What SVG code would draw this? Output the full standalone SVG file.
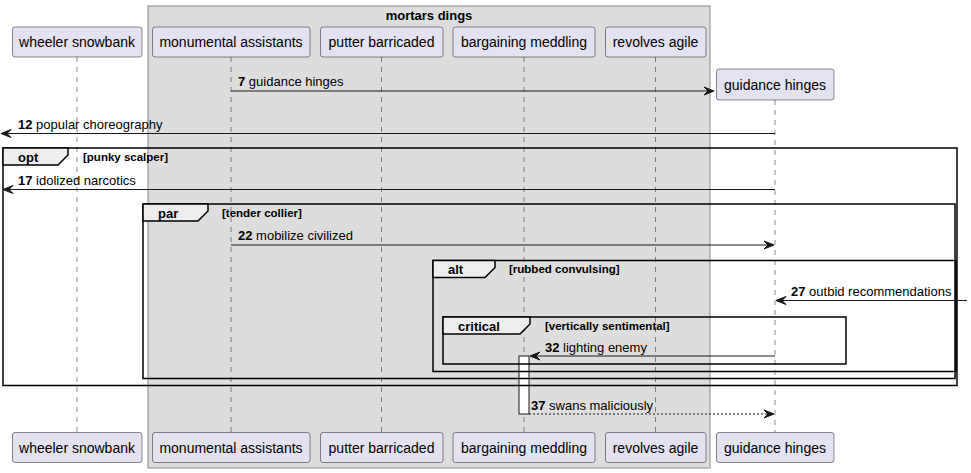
<svg xmlns="http://www.w3.org/2000/svg" width="971" height="473" viewBox="0 0 971 473">
<defs>
<style>
.p{fill:#E2E2F0;stroke:#181818;stroke-width:0.5}
.pt{font-family:"Liberation Sans",Arial,sans-serif;font-size:14px;fill:#000;text-anchor:middle}
.ll{stroke:#181818;stroke-width:0.5;stroke-dasharray:5,5}
.m{stroke:#181818;stroke-width:1;fill:none}
.md{stroke:#181818;stroke-width:1;fill:none;stroke-dasharray:2,2}
.mt{font-family:"Liberation Sans",Arial,sans-serif;font-size:13px;fill:#000}
.b{font-weight:bold}
.fr{fill:none;stroke:#000;stroke-width:1.5}
.tab{fill:#EEEEEE;stroke:#000;stroke-width:1.5}
.fk{font-family:"Liberation Sans",Arial,sans-serif;font-size:13px;font-weight:bold;fill:#000}
.fg{font-family:"Liberation Sans",Arial,sans-serif;font-size:11.5px;font-weight:bold;fill:#000}
.ah{fill:#181818;stroke:#181818;stroke-width:1}
</style>
</defs>
<g id="box-mortars-dings">
<rect x="148" y="6" width="562" height="462" fill="#DDDDDD" stroke="#888888" stroke-width="1"/>
<text x="429" y="20" class="fk" text-anchor="middle">mortars dings</text>
</g>
<g id="lifelines">
<line class="ll" x1="77" y1="57" x2="77" y2="432"/>
<line class="ll" x1="231" y1="57" x2="231" y2="432"/>
<line class="ll" x1="381.5" y1="57" x2="381.5" y2="432"/>
<line class="ll" x1="524" y1="57" x2="524" y2="432"/>
<line class="ll" x1="655.5" y1="57" x2="655.5" y2="432"/>
<line class="ll" x1="775" y1="100" x2="775" y2="432"/>
</g>
<g id="wheeler-snowbank">
<rect class="p" x="12.5" y="27" width="129.5" height="30" rx="2.5"/>
<text class="pt" x="77" y="47">wheeler snowbank</text>
<rect class="p" x="12.5" y="432.5" width="129.5" height="30" rx="2.5"/>
<text class="pt" x="77" y="452.5">wheeler snowbank</text>
</g>
<g id="monumental-assistants">
<rect class="p" x="152.5" y="27" width="157.5" height="30" rx="2.5"/>
<text class="pt" x="231" y="47">monumental assistants</text>
<rect class="p" x="152.5" y="432.5" width="157.5" height="30" rx="2.5"/>
<text class="pt" x="231" y="452.5">monumental assistants</text>
</g>
<g id="putter-barricaded">
<rect class="p" x="320.5" y="27" width="122.5" height="30" rx="2.5"/>
<text class="pt" x="381.5" y="47">putter barricaded</text>
<rect class="p" x="320.5" y="432.5" width="122.5" height="30" rx="2.5"/>
<text class="pt" x="381.5" y="452.5">putter barricaded</text>
</g>
<g id="bargaining-meddling">
<rect class="p" x="453" y="27" width="142" height="30" rx="2.5"/>
<text class="pt" x="524" y="47">bargaining meddling</text>
<rect class="p" x="453" y="432.5" width="142" height="30" rx="2.5"/>
<text class="pt" x="524" y="452.5">bargaining meddling</text>
</g>
<g id="revolves-agile">
<rect class="p" x="605.5" y="27" width="100.5" height="30" rx="2.5"/>
<text class="pt" x="655.5" y="47">revolves agile</text>
<rect class="p" x="605.5" y="432.5" width="100.5" height="30" rx="2.5"/>
<text class="pt" x="655.5" y="452.5">revolves agile</text>
</g>
<g id="guidance-hinges">
<rect class="p" x="716.5" y="69" width="117.5" height="31" rx="2.5"/>
<text class="pt" x="775" y="89.5">guidance hinges</text>
<rect class="p" x="716.5" y="432.5" width="117.5" height="30" rx="2.5"/>
<text class="pt" x="775" y="452.5">guidance hinges</text>
</g>
<g id="activation">
<rect x="519" y="356" width="10" height="58" fill="#FFFFFF" stroke="#181818" stroke-width="1"/>
</g>
<g id="fragments">
<rect class="fr" x="3" y="148" width="954" height="237.5"/>
<path class="tab" d="M3,148 L68,148 L68,155 L58,165 L3,165 Z"/>
<text class="fk" x="18" y="161.5">opt</text>
<text class="fg" x="83" y="160.5">[punky scalper]</text>
<rect class="fr" x="143" y="204" width="812" height="174.5"/>
<path class="tab" d="M143,204 L208,204 L208,211 L198,221 L143,221 Z"/>
<text class="fk" x="158" y="217.5">par</text>
<text class="fg" x="222" y="216.5">[tender collier]</text>
<rect class="fr" x="433" y="260.5" width="523" height="111"/>
<path class="tab" d="M433,260.5 L495,260.5 L495,267.5 L485,277.5 L433,277.5 Z"/>
<text class="fk" x="448" y="274">alt</text>
<text class="fg" x="509" y="273">[rubbed convulsing]</text>
<rect class="fr" x="443" y="317" width="403" height="47"/>
<path class="tab" d="M443,317 L530,317 L530,324 L520,334 L443,334 Z"/>
<text class="fk" x="458" y="330.5">critical</text>
<text class="fg" x="545" y="329.5">[vertically sentimental]</text>
</g>
<g id="connectors">
<line class="m" x1="231" y1="91" x2="713" y2="91"/>
<polygon class="ah" points="714,91 704,87 708,91 704,95"/>
<text class="mt" x="238" y="86"><tspan class="b">7</tspan> guidance hinges</text>
<line class="m" x1="775" y1="133.5" x2="2" y2="133.5"/>
<polygon class="ah" points="1,133.5 11,129.5 7,133.5 11,137.5"/>
<text class="mt" x="18" y="128.5"><tspan class="b">12</tspan> popular choreography</text>
<line class="m" x1="775" y1="189.5" x2="4" y2="189.5"/>
<polygon class="ah" points="3,189.5 13,185.5 9,189.5 13,193.5"/>
<text class="mt" x="18" y="184.5"><tspan class="b">17</tspan> idolized narcotics</text>
<line class="m" x1="231" y1="245" x2="773" y2="245"/>
<polygon class="ah" points="774,245 764,241 768,245 764,249"/>
<text class="mt" x="238" y="240"><tspan class="b">22</tspan> mobilize civilized</text>
<line class="m" x1="967" y1="300.5" x2="777" y2="300.5"/>
<polygon class="ah" points="776,300.5 786,296.5 782,300.5 786,304.5"/>
<text class="mt" x="791" y="296"><tspan class="b">27</tspan> outbid recommendations</text>
<line class="m" x1="775" y1="356" x2="531" y2="356"/>
<polygon class="ah" points="530,356 540,352 536,356 540,360"/>
<text class="mt" x="545" y="352"><tspan class="b">32</tspan> lighting enemy</text>
<line class="md" x1="529" y1="414" x2="773" y2="414"/>
<polygon class="ah" points="774,414 764,410 768,414 764,418"/>
<text class="mt" x="531" y="410"><tspan class="b">37</tspan> swans maliciously</text>
</g>
</svg>
